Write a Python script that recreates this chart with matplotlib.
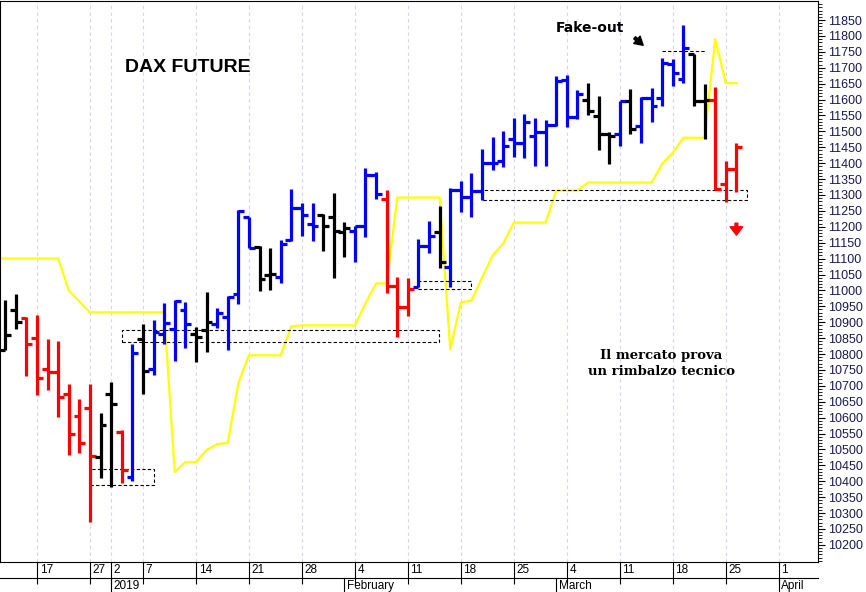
import numpy as np
import pandas as pd
import matplotlib
matplotlib.use("Agg")
import matplotlib.pyplot as plt
import matplotlib.transforms as mtrans
from matplotlib.patches import Rectangle

plt.rcParams['font.family'] = ['Liberation Sans', 'DejaVu Sans']

days = pd.bdate_range("2018-12-12", "2019-03-26")
days = [d for d in days if d.strftime("%m-%d") not in ("12-24", "12-25", "12-26", "12-31", "01-01")]

opens = [10814, 10937, 10913, 10851, 10754, 10744, 10674, 10606, 10629, 10477,
         10674, 10555, 10414, 10848, 10754, 10862, 10880, 10937, 10862, 10874,
         10893, 10916, 10990, 11230, 11138, 11048, 11042, 11157, 11259, 11209,
         11238, 11230, 11185, 11188, 11204, 11364, 11287, 11015, 10948, 11012,
         11141, 11183, 11073, 11316, 11293, 11314, 11402, 11408, 11476, 11465,
         11486, 11497, 11521, 11661, 11544, 11598, 11549, 11491, 11491, 11596,
         11518, 11606, 11606, 11711, 11664, 11742, 11596, 11598, 11334, 11382]
highs = [10971, 10989, 10916, 10924, 10848, 10840, 10707, 10657, 10707, 10615,
         10712, 10561, 10833, 10895, 10908, 10960, 10969, 10963, 10885, 10995,
         10946, 10981, 11253, 11230, 11141, 11134, 11157, 11319, 11274, 11274,
         11240, 11305, 11214, 11204, 11385, 11371, 11316, 11042, 11039, 11162,
         11219, 11266, 11322, 11343, 11368, 11444, 11481, 11500, 11541, 11554,
         11541, 11535, 11674, 11677, 11629, 11653, 11612, 11497, 11596, 11632,
         11608, 11636, 11732, 11727, 11836, 11744, 11650, 11640, 11408, 11465]
lows = [10814, 10880, 10730, 10670, 10688, 10603, 10482, 10490, 10273, 10409,
        10383, 10395, 10401, 10674, 10733, 10833, 10778, 10820, 10775, 10806,
        10883, 10814, 10958, 11134, 10998, 11000, 11023, 11155, 11172, 11155,
        11125, 11038, 11104, 11089, 11167, 11287, 10991, 10855, 10921, 11010,
        11117, 11070, 11010, 11245, 11232, 11284, 11378, 11389, 11418, 11416,
        11392, 11392, 11517, 11514, 11538, 11552, 11441, 11397, 11455, 11491,
        11465, 11528, 11580, 11643, 11653, 11580, 11476, 11316, 11277, 11308]
closes = [10860, 10900, 10833, 10725, 10744, 10665, 10550, 10521, 10479, 10576,
          10642, 10435, 10803, 10747, 10870, 10897, 10966, 10893, 10855, 10900,
          10929, 10979, 11250, 11134, 11036, 11052, 11146, 11259, 11238, 11204,
          11204, 11188, 11195, 11201, 11364, 11303, 11015, 10948, 11005, 11141,
          11172, 11089, 11316, 11293, 11311, 11402, 11400, 11455, 11465, 11528,
          11497, 11521, 11659, 11544, 11617, 11565, 11493, 11486, 11596, 11507,
          11606, 11580, 11716, 11685, 11763, 11596, 11598, 11319, 11382, 11452]
colors = list("kkrrrrrrrk" "krbkbbbb" "kkbbb" "bkkbb" "bbkkk" "bbbrr" "rbbkb"
              "bbbbb" "bbbbb" "bbkkk" "bkbbb" "bbkkr" "rr")
stop_line = [11100, 11100, 11100, 11100, 11100, 11100, 11000, 10965, 10931, 10931,
             10931, 10931, 10931, 10931, 10931, 10931, 10429, 10460, 10460, 10498,
             10517, 10520, 10708, 10796, 10796, 10796, 10796, 10887, 10890, 10890,
             10890, 10890, 10890, 10890, 10959, 11022, 11022, 11292, 11292, 11292,
             11292, 11292, 10815, 10962, 10968, 11040, 11110, 11147, 11213, 11213,
             11213, 11213, 11314, 11314, 11314, 11339, 11339, 11339, 11339, 11339,
             11339, 11339, 11398, 11433, 11480, 11480, 11480, 11790, 11652, 11652]

tick_pos = [3, 8, 10, 13, 18, 23, 28, 33, 38, 43, 48, 53, 58, 63, 68, 73]
tick_lab = ["17", "27", "2", "7", "14", "21", "28", "4", "11", "18", "25", "4", "11", "18", "25", "1"]
month_pos = [10, 32, 52, 73]
month_lab = ["2019", "February", "March", "April"]

boxes = [(8, 14, 10388, 10438), (11, 40.9, 10837, 10877),
         (39, 44, 11003, 11031), (45.1, 70, 11285, 11317)]

fig = plt.figure(figsize=(8.66, 5.92), dpi=100)
ax = fig.add_axes([0, 30 / 592, 818 / 866, 561 / 592])

x = np.arange(len(days))
cmap = {'b': '#0000ff', 'r': '#ff0000', 'k': '#000000'}
for xi, o, h, l, c, k in zip(x, opens, highs, lows, closes, colors):
    col = cmap[k]
    ax.vlines(xi, l, h, color=col, lw=2.3)
    ax.hlines(o, xi - 0.55, xi, color=col, lw=2.3)
    ax.hlines(c, xi, xi + 0.55, color=col, lw=2.3)

# stop line, left end runs to the frame
ax.plot(np.r_[-0.6, x], np.r_[stop_line[0], stop_line], color='#ffff00', lw=1.6, zorder=1)

for x0, x1, y0, y1 in boxes:
    ax.add_patch(Rectangle((x0, y0), x1 - x0, y1 - y0, fill=False, ls=(0, (3, 2)), lw=0.8, ec='k'))
ax.hlines(11753, 62, 66, color='k', ls=(0, (3, 2)), lw=0.8)

for p in tick_pos:
    ax.axvline(p, color='#d4d4f4', ls=(0, (3, 3)), lw=0.8, zorder=0)

ax.set_xlim(-0.49, 76.7)
ax.set_ylim(10146, 11910)

ax.yaxis.tick_right()
ax.set_yticks(np.arange(10200, 11851, 50))
ax.set_yticks(np.arange(10150, 11910, 10), minor=True)
ax.tick_params(axis='y', which='major', length=5, labelsize=9, labelcolor='#1a1a50', pad=2)
ax.tick_params(axis='y', which='minor', length=3)

ax.set_xticks(tick_pos)
ax.set_xticklabels([])
ax.tick_params(axis='x', which='major', length=16, width=0.8, direction='out')
tr = mtrans.blended_transform_factory(ax.transData, ax.transAxes)
for p, s in zip(tick_pos, tick_lab):
    ax.text(p + 0.25, -0.0145, s, transform=tr, ha='left', va='center', fontsize=8.5)
for p, s in zip(month_pos, month_lab):
    ax.plot([p, p], [-0.029, -0.06], transform=tr, color='k', lw=0.8, clip_on=False)
    ax.text(p + 0.25, -0.043, s, transform=tr, ha='left', va='center', fontsize=8.5)
ax.plot([-0.49, 76.7], [-0.029, -0.029], transform=tr, color='k', lw=0.8, clip_on=False)

ax.text(11.3, 11700, "DAX FUTURE", fontsize=14, fontweight='bold', ha='left', va='center')
ax.text(52, 11825, "Fake-out", fontsize=10, fontweight='bold', ha='left', va='center',
        family=['DejaVu Sans'])
ax.annotate("", xy=(60.4, 11765), xytext=(59.2, 11800),
            arrowprops=dict(arrowstyle='simple,head_width=0.7,head_length=0.6', color='k'))
ax.text(61.9, 10770, "Il mercato prova\nun rimbalzo tecnico", fontsize=9.5, fontweight='bold',
        ha='center', va='center', family=['DejaVu Serif'], linespacing=1.3)
ax.annotate("", xy=(69, 11165), xytext=(69, 11220),
            arrowprops=dict(arrowstyle='simple,head_width=0.9,head_length=0.6', color='#ff0000'))

fig.savefig("out.png", dpi=100)
